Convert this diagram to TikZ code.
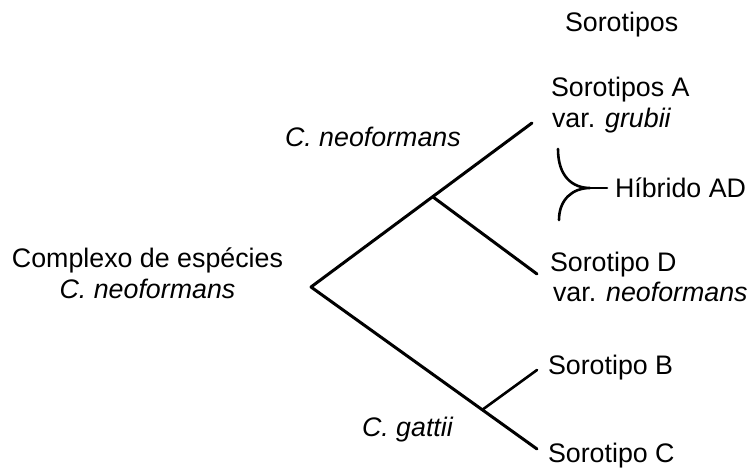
\documentclass[tikz,border=0pt]{standalone}
\usepackage{fontspec}
\setmainfont{Liberation Sans}
\begin{document}
\begin{tikzpicture}[x=1pt,y=-1pt,
  lbl/.style={inner sep=0pt,outer sep=0pt,anchor=base west,font=\fontsize{26.8}{31}\selectfont},
  clbl/.style={lbl,anchor=base},
  branch/.style={line width=3pt,line cap=round,line join=round},
  twig/.style={line width=2.6pt,line cap=round}]
\useasboundingbox (0,0) rectangle (753,468);
% tree points
\coordinate (root) at (311,287);
\coordinate (endA) at (532,123);
\coordinate (j1) at (433,197);
\coordinate (endD) at (537,274);
\coordinate (endC) at (537,449);
\coordinate (j2) at (482,410);
\coordinate (endB) at (537,370);
% labels
\node[lbl] (top) at (565,32) {Sorotipos};
\node[lbl] (sA) at (551,97) {Sorotipos A};
\node[lbl] (vA) at (552,128) {var. \textit{grubii}};
\node[lbl] (hyb) at (615,197) {Híbrido AD};
\node[lbl] (sD) at (550,271) {Sorotipo D};
\node[lbl] (vD) at (553,301) {var. \textit{neoformans}};
\node[lbl] (sB) at (548,374) {Sorotipo B};
\node[lbl] (sC) at (548,462) {Sorotipo C};
\node[lbl] (cneo) at (285,147) {\textit{C. neoformans}};
\node[lbl] (cgat) at (362,436) {\textit{C. gattii}};
\node[clbl] (cx1) at (147.5,267) {Complexo de espécies};
\node[clbl] (cx2) at (147.5,298) {\textit{C. neoformans}};
% branches
\draw[branch] (endA) -- (root) -- (endC);
\draw[branch] (j1) -- (endD);
\draw[twig] (j2) -- (endB);
% hybrid bracket
\coordinate (tip) at (590,188);
\coordinate (hybin) at (607,188);
\draw[twig] (558,149) .. controls (558,176) and (572,188) .. (tip)
  .. controls (572,188) and (559,200) .. (559,220);
\draw[twig] (tip) -- (hybin);
\end{tikzpicture}
\end{document}
